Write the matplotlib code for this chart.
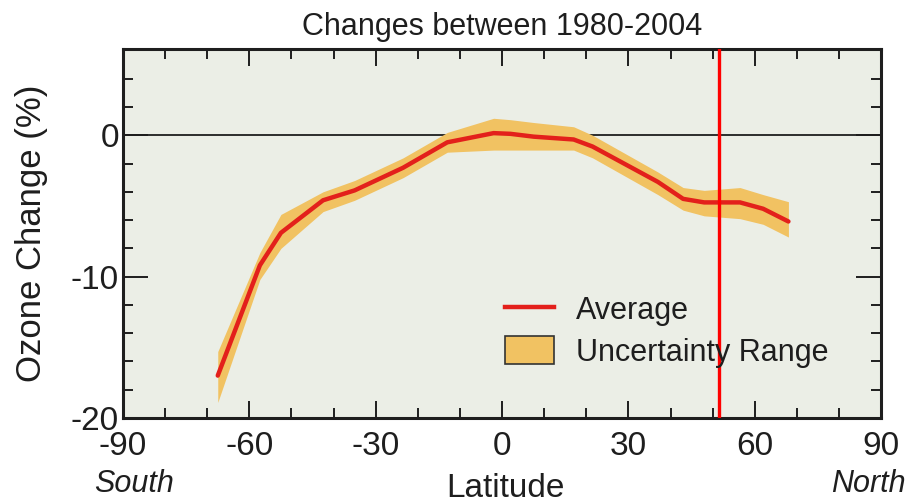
import numpy as np
import matplotlib
matplotlib.use("Agg")
import matplotlib.pyplot as plt
from matplotlib.patches import Patch
from matplotlib.lines import Line2D

# Latitude bands and ozone change values
latitude = [-67.5, -57.5, -52.5, -42.5, -35, -23.5, -13, -2, 2, 7.5, 17, 21.5, 37, 43, 48, 56.5, 62, 68]
average = [-17.0, -9.2, -6.9, -4.6, -3.9, -2.3, -0.5, 0.15, 0.1, -0.1, -0.3, -0.8, -3.3, -4.5, -4.75, -4.75, -5.2, -6.1]
upper = [-15.3, -8.3, -5.6, -4.0, -3.2, -1.6, 0.2, 1.2, 1.1, 0.9, 0.6, 0.0, -2.6, -3.7, -3.9, -3.7, -4.2, -4.7]
lower = [-18.9, -10.2, -8.0, -5.4, -4.6, -3.0, -1.2, -1.05, -1.05, -1.05, -1.05, -1.6, -4.2, -5.3, -5.7, -5.9, -6.3, -7.2]
marker_lat = 51.6

xticks = [-90, -60, -30, 0, 30, 60, 90]
yticks = [-20, -10, 0]

band_color = "#f1c262"
line_color = "#e3201b"
face = "#ebeee6"
ink = "#1e1e1e"

plt.rcParams["font.family"] = ["Liberation Sans", "DejaVu Sans"]

fig = plt.figure(figsize=(9.2, 4.99), dpi=100)
ax = fig.add_axes([0.1337, 0.1623, 0.824, 0.7395])
ax.set_facecolor(face)

ax.axhline(0, color=ink, lw=1.3, zorder=1)
ax.fill_between(latitude, lower, upper, color=band_color, lw=0, zorder=2)
ax.plot(latitude, average, color=line_color, lw=3.2, zorder=3, solid_capstyle="round")
ax.axvline(marker_lat, color="#ff0000", lw=2.4, zorder=4)

ax.set_xlim(-90, 90)
ax.set_ylim(-20, 6.1)
ax.set_xticks(xticks)
ax.set_xticks(np.arange(-80, 90, 10), minor=True)
ax.set_yticks(yticks)
ax.set_yticks(np.arange(-18, 7, 2), minor=True)
ax.set_xticklabels([str(t) for t in xticks])
ax.set_yticklabels([str(t) for t in yticks])

ax.tick_params(which="both", direction="in", top=True, right=True, width=1.4, color=ink,
               labelsize=24, labelcolor=ink)
ax.tick_params(axis="x", which="major", length=12, pad=9)
ax.tick_params(axis="y", which="major", length=18, pad=3)
ax.tick_params(which="minor", length=7)
for s in ax.spines.values():
    s.set_linewidth(2.2)
    s.set_color(ink)

ax.set_title("Changes between 1980-2004", fontsize=22, color=ink, pad=10)
ax.set_ylabel("Ozone Change (%)", fontsize=25, color=ink)
ax.yaxis.set_label_coords(-0.099, 0.5)
# bottom labels: "Latitude" sits right on the lower edge, as in the original
fig.text(0.549, 0.004, "Latitude", fontsize=24, color=ink, ha="center", va="baseline")
fig.text(0.146, 0.03, "South", fontsize=22, style="italic", color=ink, ha="center", va="center")
fig.text(0.944, 0.03, "North", fontsize=22, style="italic", color=ink, ha="center", va="center")

handles = [Line2D([0], [0], color=line_color, lw=3.2),
           Patch(facecolor=band_color, edgecolor="#333333", lw=1.2)]
leg = ax.legend(handles, ["Average", "Uncertainty Range"], loc="lower left",
                bbox_to_anchor=(0.468, 0.062), frameon=False, fontsize=22,
                handlelength=1.6, handleheight=1.0, handletextpad=0.7, labelspacing=0.35)
for t in leg.get_texts():
    t.set_color(ink)

fig.savefig("out.png", dpi=100)
